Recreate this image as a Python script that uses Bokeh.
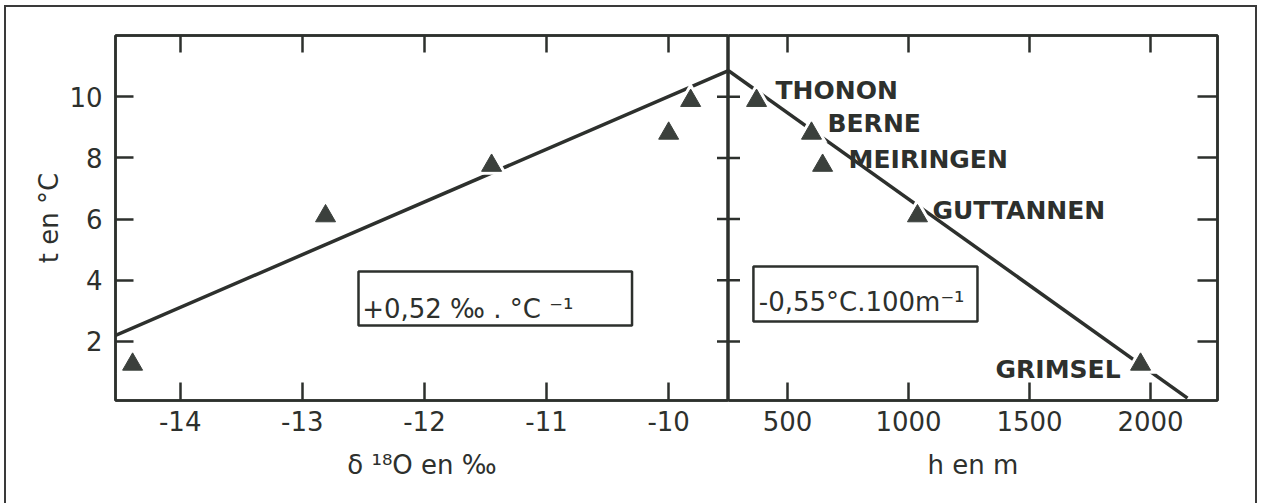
from bokeh.plotting import figure
from bokeh.models import (Range1d, FixedTicker, LinearAxis, BoxAnnotation, Label,
                          ColumnDataSource, Row)
from bokeh.core.properties import value
from bokeh.embed import file_html
from bokeh.resources import INLINE

# ---------------- data ----------------
stations = ["THONON", "BERNE", "MEIRINGEN", "GUTTANNEN", "GRIMSEL"]
temp_c = [9.87, 8.80, 7.75, 6.10, 1.25]            # mean annual temperature, °C
delta18o = [-9.82, -10.00, -11.45, -12.81, -14.39]  # δ18O en ‰
altitude_m = [372, 599, 645, 1037, 1959]            # h en m

fit_delta = [-14.53, -9.51]
fit_delta_t = [2.20, 10.85]
fit_alt = [256, 2153]
fit_alt_t = [10.85, 0.15]

t_ticks = [2, 4, 6, 8, 10]
delta_ticks = [-14, -13, -12, -11, -10]
alt_ticks = [500, 1000, 1500, 2000]

box_left_text = "+0,52 ‰ . °C ⁻¹"
box_right_text = "-0,55°C.100m⁻¹"

# ---------------- layout / style ----------------
FONT = "DejaVu Sans"
INK = "#2d302d"
MARK = "#3b403c"
FS = "26px"
LW = 2.5

# station label offsets in screen pixels (dx, dy, align)
LABEL_LAYOUT = {
    "THONON": (19, -10, "left"),
    "BERNE": (16, -10, "left"),
    "MEIRINGEN": (26, -6, "left"),
    "GUTTANNEN": (15, -6, "left"),
    "GRIMSEL": (-20, 5, "right"),
}

y_rng = Range1d(0.07, 12.0)
H = 496


def make_axis(ticks, labels=True, tick_in=18):
    ax = LinearAxis(ticker=FixedTicker(ticks=ticks))
    ax.major_tick_in = tick_in
    ax.major_tick_out = 0
    ax.minor_tick_line_color = None
    ax.major_tick_line_width = LW
    ax.major_tick_line_color = INK
    ax.axis_line_color = INK
    ax.axis_line_width = LW
    ax.major_label_text_font = FONT
    ax.major_label_text_font_size = FS
    ax.major_label_text_color = INK
    ax.axis_label_text_font = FONT
    ax.axis_label_text_font_size = FS
    ax.axis_label_text_font_style = "normal"
    ax.axis_label_text_color = INK
    if labels:
        ax.major_label_overrides = {t: str(t) for t in ticks}
    else:
        ax.major_label_overrides = {t: "" for t in ticks}
        ax.major_label_standoff = 0
    return ax


def base_fig(width, x_range, mbl, mbr):
    p = figure(width=width, height=H, x_range=x_range, y_range=y_rng,
               output_backend="svg", toolbar_location=None,
               x_axis_location=None, y_axis_location=None,
               min_border_left=mbl, min_border_right=mbr,
               min_border_top=28, min_border_bottom=H - 28 - 365)
    p.grid.visible = False
    p.outline_line_color = INK
    p.outline_line_width = LW
    p.background_fill_color = "white"
    p.border_fill_color = "white"
    return p


def note_box(left, right, bottom, top):
    return BoxAnnotation(left=left, right=right, bottom=bottom, top=top,
                         fill_color="white", fill_alpha=1.0,
                         line_color=INK, line_alpha=1.0, line_width=LW)


# ---------------- left panel: t vs δ18O ----------------
p1 = base_fig(722, Range1d(-14.53, -9.51), 109, 0)

ax_l = make_axis(t_ticks)
ax_l.axis_label = "t en °C"
ax_l.major_label_standoff = 13
ax_l.axis_label_standoff = 2
p1.add_layout(ax_l, "left")

ax_b1 = make_axis(delta_ticks)
ax_b1.axis_label = "δ ¹⁸O en ‰"
ax_b1.major_label_standoff = 10
ax_b1.axis_label_standoff = 16
p1.add_layout(ax_b1, "below")

p1.add_layout(make_axis(delta_ticks, labels=False, tick_in=17), "above")

p1.line(fit_delta, fit_delta_t, line_color=INK, line_width=3.5)
src1 = ColumnDataSource(dict(d=delta18o, t=temp_c))
p1.scatter("d", "t", source=src1, marker="triangle", size=32,
           fill_color="white", line_color=None)
p1.scatter("d", "t", source=src1, marker="triangle", size=20,
           fill_color=MARK, line_color=MARK, line_width=1)
# crossing ticks on the shared divider (left half)
p1.scatter(x=[fit_delta[1]] * len(t_ticks), y=t_ticks, marker="dash", size=23,
           line_color=INK, line_width=LW)

p1.add_layout(note_box(-12.54, -10.30, 2.52, 4.29))
p1.add_layout(Label(x=-12.51, y=3.05, text=box_left_text, text_font=FONT,
                    text_font_size=FS, text_color=INK, text_align="left",
                    text_baseline="alphabetic"))

# ---------------- right panel: t vs altitude ----------------
p2 = base_fig(527, Range1d(256, 2277), 0, 38)

ax_b2 = make_axis(alt_ticks)
ax_b2.axis_label = "h en m"
ax_b2.major_label_standoff = 10
ax_b2.axis_label_standoff = 16
p2.add_layout(ax_b2, "below")
p2.add_layout(make_axis(alt_ticks, labels=False, tick_in=17), "above")
p2.add_layout(make_axis(t_ticks, labels=False, tick_in=20), "right")

p2.line(fit_alt, fit_alt_t, line_color=INK, line_width=3.5)
src2 = ColumnDataSource(dict(
    h=altitude_m, t=temp_c, name=stations,
    dx=[LABEL_LAYOUT[s][0] for s in stations],
    dy=[LABEL_LAYOUT[s][1] for s in stations],
    align=[LABEL_LAYOUT[s][2] for s in stations],
))
p2.scatter("h", "t", source=src2, marker="triangle", size=32,
           fill_color="white", line_color=None)
p2.scatter("h", "t", source=src2, marker="triangle", size=20,
           fill_color=MARK, line_color=MARK, line_width=1)
p2.text("h", "t", text="name", source=src2, x_offset="dx", y_offset="dy",
        text_align={"field": "align"}, text_baseline="middle",
        text_font=value(FONT), text_font_size="25px", text_font_style="bold",
        text_color=INK)
p2.scatter(x=[fit_alt[0]] * len(t_ticks), y=t_ticks, marker="dash", size=23,
           line_color=INK, line_width=LW)

p2.add_layout(note_box(359, 1285, 2.65, 4.45))
p2.add_layout(Label(x=381, y=3.28, text=box_right_text, text_font=FONT,
                    text_font_size=FS, text_color=INK, text_align="left",
                    text_baseline="alphabetic"))

layout = Row(children=[p1, p2], spacing=0,
             styles={"margin-left": "4px", "margin-top": "5px",
                     "border-top": "2px solid #3a3a3a",
                     "border-left": "2px solid #3a3a3a",
                     "border-right": "2px solid #3a3a3a"})

open("out.html", "w").write(file_html(layout, INLINE))
